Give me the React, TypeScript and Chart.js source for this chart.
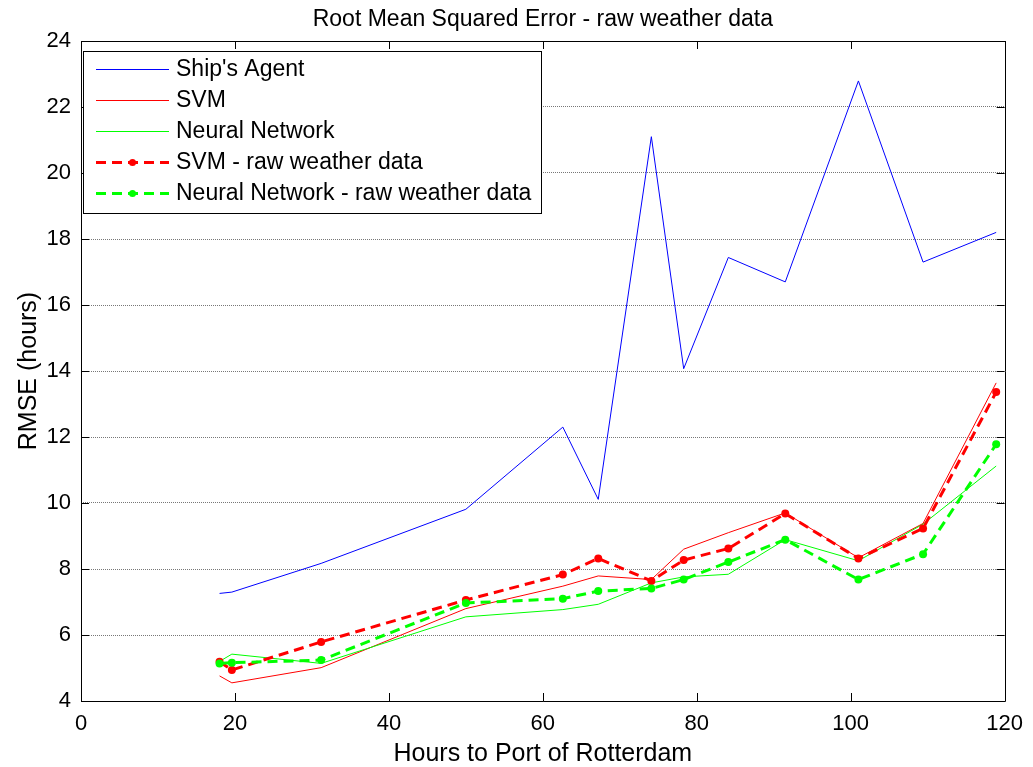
import React, { useEffect, useRef } from "react";
import { Chart, registerables } from "chart.js";

Chart.register(...registerables);

const chartTitle = "Root Mean Squared Error - raw weather data";
const xAxisTitle = "Hours to Port of Rotterdam";
const yAxisTitle = "RMSE (hours)";

const hours = [18, 19.6, 31.2, 50, 62.6, 67.2, 74.1, 78.3, 84.1, 91.5, 101, 109.4, 118.9];
const shipsAgent = [7.26, 7.3, 8.17, 9.81, 12.3, 10.11, 21.1, 14.07, 17.44, 16.7, 22.79, 17.3, 18.2];
const svm = [4.76, 4.55, 5.01, 6.8, 7.48, 7.79, 7.68, 8.6, 9.1, 9.7, 8.34, 9.38, 13.64];
const neuralNetwork = [5.2, 5.42, 5.14, 6.55, 6.77, 6.93, 7.58, 7.76, 7.84, 8.89, 8.25, 9.36, 11.12];
const svmRaw = [5.19, 4.94, 5.79, 7.06, 7.83, 8.32, 7.64, 8.27, 8.62, 9.68, 8.32, 9.23, 13.36];
const nnRaw = [5.14, 5.16, 5.24, 6.97, 7.1, 7.33, 7.41, 7.68, 8.21, 8.89, 7.68, 8.45, 11.78];

const seriesNames = [
  "Ship's Agent",
  "SVM",
  "Neural Network",
  "SVM - raw weather data",
  "Neural Network - raw weather data",
];

const xTicks = [0, 20, 40, 60, 80, 100, 120];
const yTicks = [4, 6, 8, 10, 12, 14, 16, 18, 20, 22, 24];

const FONT = '"Liberation Sans", Arial, Helvetica, sans-serif';

const toPoints = (ys: number[]) => hours.map((h, i) => ({ x: h, y: ys[i] }));

const framePlugin = {
  id: "matlabFrame",
  afterDatasetsDraw(chart: any) {
    const { ctx, chartArea: a, scales } = chart;
    ctx.save();
    ctx.strokeStyle = "#000";
    ctx.lineWidth = 1;
    const L = 8;
    ctx.beginPath();
    ctx.rect(Math.round(a.left) + 0.5, Math.round(a.top) + 0.5, Math.round(a.right - a.left), Math.round(a.bottom - a.top));
    xTicks.forEach((v) => {
      const px = Math.round(scales.x.getPixelForValue(v)) + 0.5;
      ctx.moveTo(px, a.bottom);
      ctx.lineTo(px, a.bottom - L);
      ctx.moveTo(px, a.top);
      ctx.lineTo(px, a.top + L);
    });
    yTicks.forEach((v) => {
      const py = Math.round(scales.y.getPixelForValue(v)) + 0.5;
      ctx.moveTo(a.left, py);
      ctx.lineTo(a.left + L, py);
      ctx.moveTo(a.right, py);
      ctx.lineTo(a.right - L, py);
    });
    ctx.stroke();
    ctx.restore();
  },
  afterDraw(chart: any) {
    const { ctx, chartArea: a } = chart;
    ctx.save();
    // title
    ctx.fillStyle = "#000";
    ctx.font = `23px ${FONT}`;
    ctx.textAlign = "center";
    ctx.textBaseline = "alphabetic";
    ctx.fillText(chartTitle, (a.left + a.right) / 2, 26);
    // x title
    ctx.font = `25px ${FONT}`;
    ctx.fillText(xAxisTitle, (a.left + a.right) / 2, 761);
    // y title
    ctx.save();
    ctx.translate(36, (a.top + a.bottom) / 2);
    ctx.rotate(-Math.PI / 2);
    ctx.fillText(yAxisTitle, 0, 0);
    ctx.restore();

    // legend
    const bx = 83, by = 51, bw = 458, bh = 162;
    ctx.fillStyle = "#fff";
    ctx.fillRect(bx, by, bw, bh);
    ctx.strokeStyle = "#000";
    ctx.lineWidth = 1;
    ctx.strokeRect(bx + 0.5, by + 0.5, bw, bh);
    const rows = [69, 100, 131, 162, 193];
    const ds = chart.data.datasets;
    ctx.font = `23px ${FONT}`;
    ctx.textAlign = "left";
    ctx.textBaseline = "middle";
    rows.forEach((ry, i) => {
      const d = ds[i];
      ctx.save();
      ctx.strokeStyle = d.borderColor;
      ctx.lineWidth = d.borderWidth;
      ctx.setLineDash(d.borderDash || []);
      ctx.beginPath();
      ctx.moveTo(96, ry + 0.5);
      ctx.lineTo(169, ry + 0.5);
      ctx.stroke();
      ctx.restore();
      if (d.pointRadius > 0) {
        ctx.fillStyle = d.pointBackgroundColor;
        ctx.beginPath();
        ctx.arc(132.5, ry + 0.5, 3.5, 0, Math.PI * 2);
        ctx.fill();
      }
      ctx.fillStyle = "#000";
      ctx.fillText(seriesNames[i], 176, ry + 1);
    });
    ctx.restore();
  },
};

export default function App() {
  const ref = useRef<HTMLCanvasElement>(null);
  useEffect(() => {
    if (!ref.current) return;
    const chart = new Chart(ref.current, {
      type: "line",
      data: {
        datasets: [
          { label: seriesNames[0], data: toPoints(shipsAgent), borderColor: "#0000ff", backgroundColor: "#0000ff", borderWidth: 1, pointRadius: 0, order: 5 },
          { label: seriesNames[1], data: toPoints(svm), borderColor: "#ff0000", backgroundColor: "#ff0000", borderWidth: 1, pointRadius: 0, order: 4 },
          { label: seriesNames[2], data: toPoints(neuralNetwork), borderColor: "#00ff00", backgroundColor: "#00ff00", borderWidth: 1, pointRadius: 0, order: 3 },
          { label: seriesNames[3], data: toPoints(svmRaw), borderColor: "#ff0000", backgroundColor: "#ff0000", borderWidth: 3, borderDash: [10, 6], pointRadius: 4, pointBackgroundColor: "#ff0000", pointBorderWidth: 0, order: 2 },
          { label: seriesNames[4], data: toPoints(nnRaw), borderColor: "#00ff00", backgroundColor: "#00ff00", borderWidth: 3, borderDash: [10, 6], pointRadius: 4, pointBackgroundColor: "#00ff00", pointBorderWidth: 0, order: 1 },
        ] as any,
      },
      options: {
        responsive: false,
        animation: false,
        layout: { padding: { left: 0, right: 21, top: 41, bottom: 0 } },
        plugins: { legend: { display: false }, title: { display: false }, tooltip: { enabled: false } },
        elements: { line: { tension: 0 } },
        scales: {
          x: {
            type: "linear",
            min: 0,
            max: 120,
            afterBuildTicks: (s: any) => { s.ticks = xTicks.map((v) => ({ value: v })); },
            afterFit: (s: any) => { s.height = 66; },
            grid: { display: false, drawTicks: false },
            border: { display: false },
            ticks: { color: "#000", font: { family: FONT, size: 22 }, padding: 10, maxRotation: 0 },
          },
          y: {
            type: "linear",
            min: 4,
            max: 24,
            afterBuildTicks: (s: any) => { s.ticks = yTicks.map((v) => ({ value: v })); },
            afterFit: (s: any) => { s.width = 81; },
            grid: { display: true, drawTicks: false, color: "#777", lineWidth: 1 },
            border: { display: false, dash: [1, 1] },
            ticks: { color: "#000", font: { family: FONT, size: 22 }, padding: 10 },
          },
        },
      } as any,
      plugins: [framePlugin],
    });
    return () => chart.destroy();
  }, []);
  return (
    <div style={{ position: "absolute", left: 0, top: 0, width: 1033, height: 767, background: "#fff" }}>
      <canvas ref={ref} width={1033} height={767} />
    </div>
  );
}
